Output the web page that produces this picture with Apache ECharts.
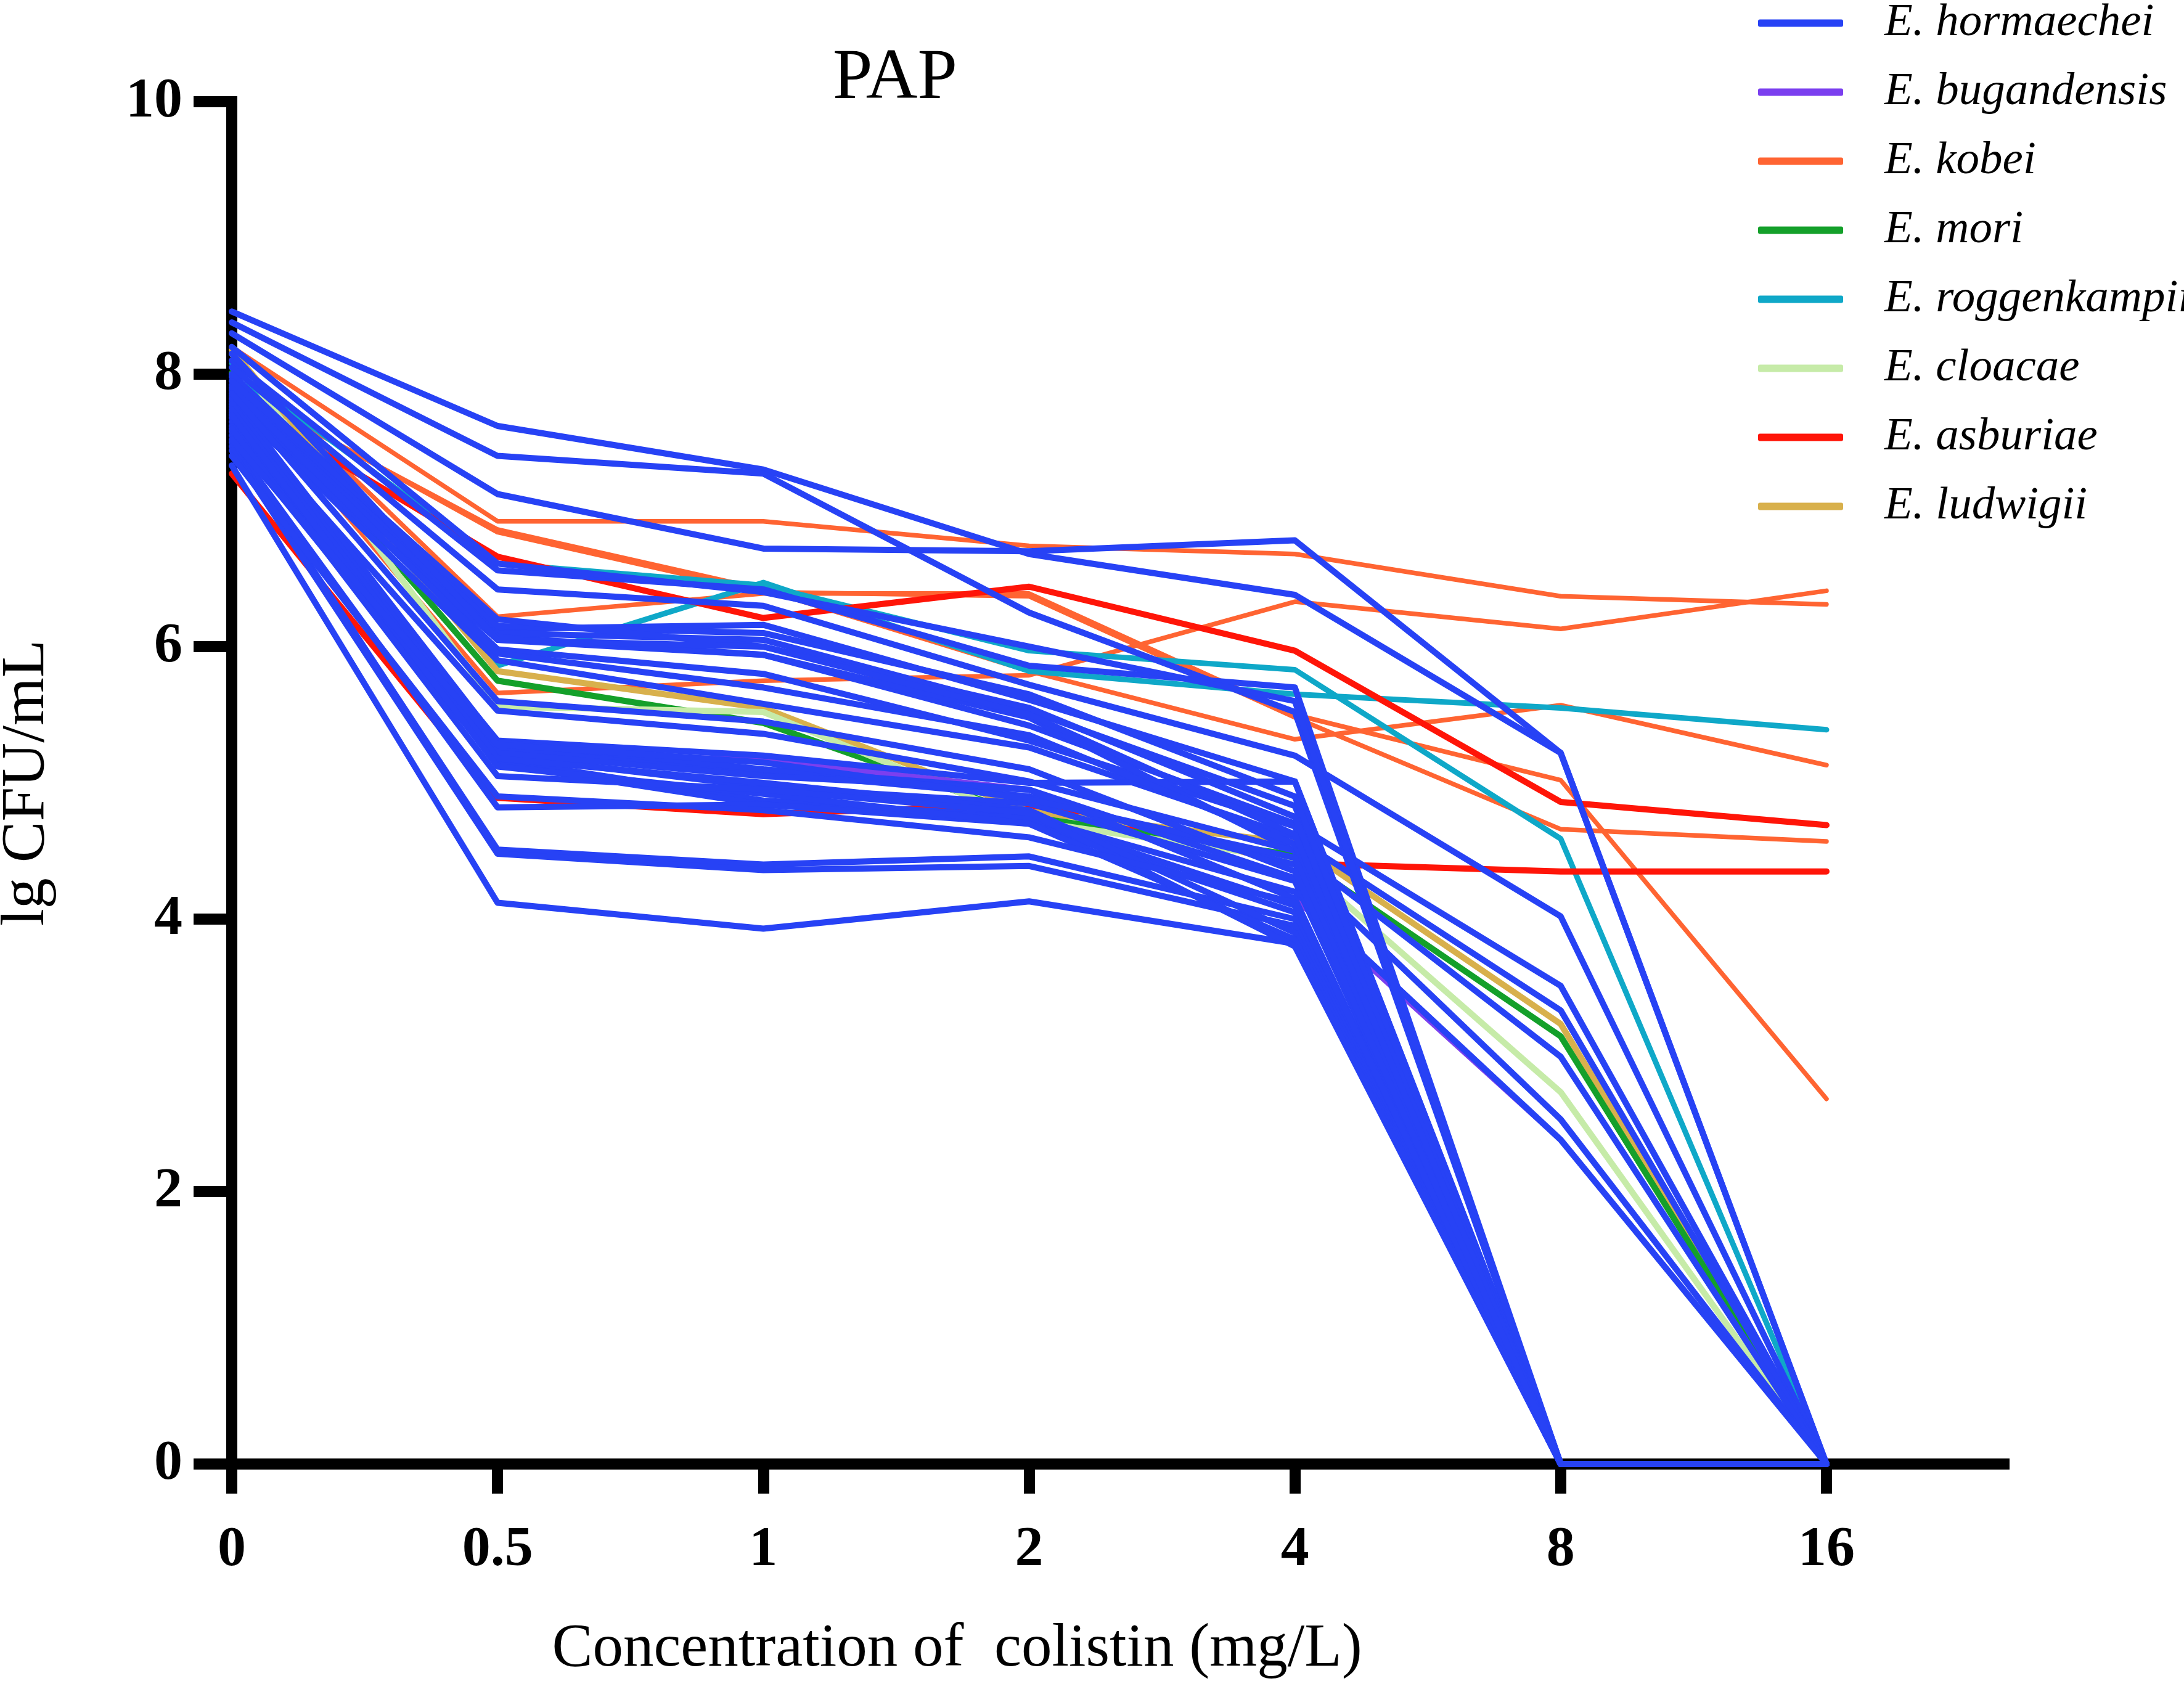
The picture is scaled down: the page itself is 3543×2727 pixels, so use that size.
<!DOCTYPE html>
<html><head><meta charset="utf-8">
<script src="https://cdn.jsdelivr.net/npm/echarts@6/dist/echarts.min.js"></script>
<style>html,body{margin:0;padding:0;background:#fff}#c{width:3543px;height:2727px}</style>
</head><body><div id="c"></div>
<script>
// x categories (colistin, mg/L)
const xLabels = ['0', '0.5', '1', '2', '4', '8', '16'];
const yTicks = [0, 2, 4, 6, 8, 10];

// lg CFU/mL per strain, one row per strain (values at 0,0.5,1,2,4,8,16)
const hormaechei = [
  [8.46, 7.62, 7.30, 6.68, 6.38, 5.22, 0],
  [8.38, 7.40, 7.27, 6.25, 5.52, 0, 0],
  [8.30, 7.12, 6.72, 6.70, 6.78, 5.22, 0],
  [8.10, 6.56, 6.42, 5.86, 5.70, 0, 0],
  [8.05, 6.42, 6.30, 5.72, 5.20, 4.02, 0],
  [7.98, 6.13, 6.16, 5.61, 5.01, 0, 0],
  [7.92, 6.10, 6.05, 5.53, 4.83, 0, 0],
  [7.88, 6.07, 5.94, 5.42, 4.70, 3.51, 0],
  [7.84, 5.98, 5.80, 5.31, 4.68, 0, 0],
  [7.80, 5.90, 5.58, 5.26, 4.60, 3.33, 0],
  [7.76, 6.05, 5.94, 5.48, 4.50, 0, 0],
  [7.72, 5.53, 5.36, 5.01, 4.50, 2.99, 0],
  [7.68, 5.31, 5.20, 5.00, 5.01, 0, 0],
  [7.65, 5.25, 5.08, 4.90, 4.40, 2.53, 0],
  [7.62, 5.20, 4.97, 4.85, 4.28, 0, 0],
  [7.58, 5.17, 4.87, 4.75, 4.20, 2.38, 0],
  [7.55, 5.14, 4.84, 4.74, 4.10, 0, 0],
  [7.50, 4.82, 4.84, 4.70, 4.05, 0, 0],
  [7.47, 4.51, 4.40, 4.46, 4.00, 0, 0],
  [7.44, 4.48, 4.36, 4.39, 3.95, 0, 0],
  [7.33, 4.12, 3.93, 4.13, 3.82, 0, 0],
  [8.20, 6.61, 6.40, 6.00, 5.60, 0, 0],
  [8.00, 6.15, 6.10, 5.65, 4.90, 0, 0],
  [7.95, 6.20, 6.00, 5.55, 4.75, 0, 0],
  [7.90, 5.95, 5.70, 5.35, 4.55, 0, 0],
  [7.82, 5.30, 5.10, 4.95, 4.30, 0, 0],
  [7.78, 5.22, 5.05, 4.95, 4.15, 0, 0],
  [7.74, 5.18, 5.00, 4.80, 3.90, 0, 0],
  [7.70, 5.12, 4.92, 4.70, 3.85, 0, 0],
  [7.60, 5.05, 4.95, 4.78, 3.80, 0, 0],
  [7.52, 5.28, 5.15, 4.88, 4.45, 0, 0],
  [7.40, 4.90, 4.80, 4.60, 4.12, 0, 0],
  [8.15, 6.05, 6.00, 5.50, 4.62, 0, 0],
  [7.86, 5.60, 5.45, 5.10, 4.35, 0, 0]
];
const bugandensis = [
  [7.70, 5.22, 5.17, 4.95, 4.15, 2.38, 0]
];
const kobei = [
  [8.20, 6.92, 6.92, 6.74, 6.68, 6.37, 6.31],
  [7.95, 5.66, 5.75, 5.79, 6.33, 6.13, 6.41],
  [7.90, 6.86, 6.42, 5.82, 5.32, 5.57, 5.13],
  [8.10, 6.22, 6.39, 6.39, 5.50, 5.02, 2.68],
  [7.92, 6.84, 6.40, 6.37, 5.48, 4.66, 4.57]
];
const mori = [
  [8.01, 5.75, 5.44, 4.75, 4.47, 3.14, 0]
];
const roggenkampii = [
  [8.08, 5.86, 6.47, 5.82, 5.65, 5.55, 5.39],
  [8.05, 6.61, 6.45, 5.97, 5.83, 4.59, 0]
];
const cloacae = [
  [8.15, 5.56, 5.52, 4.72, 4.44, 2.73, 0]
];
const asburiae = [
  [7.82, 6.66, 6.21, 6.44, 5.97, 4.86, 4.69],
  [7.27, 4.89, 4.77, 4.84, 4.41, 4.35, 4.35]
];
const ludwigii = [
  [8.18, 5.82, 5.55, 4.79, 4.56, 3.23, 0]
];

const speciesNames = ['E. hormaechei', 'E. bugandensis', 'E. kobei', 'E. mori',
  'E. roggenkampii', 'E. cloacae', 'E. asburiae', 'E. ludwigii'];
const speciesData = [hormaechei, bugandensis, kobei, mori, roggenkampii, cloacae, asburiae, ludwigii];
const speciesColors = ['#2742F5', '#7B3FEF', '#FF6432', '#14A02A', '#0FA8C8', '#C6EBA8', '#FF1508', '#D8B04C'];
const speciesWidths = [10, 9, 7.5, 10, 9, 10, 10, 10];
// draw order: others first, hormaechei on top
const drawOrder = [2, 4, 6, 7, 3, 5, 1, 0];

const FONT = '"Liberation Serif", "Times New Roman", serif';
const series = [];
drawOrder.forEach(si => {
  speciesData[si].forEach(row => {
    series.push({
      type: 'line',
      name: speciesNames[si],
      data: row.map((v, i) => [i, v]),
      symbol: 'none',
      showSymbol: false,
      silent: true,
      animation: false,
      color: speciesColors[si],
      lineStyle: { color: speciesColors[si], width: speciesWidths[si], join: 'round', cap: 'round' },
      itemStyle: { color: speciesColors[si] },
      z: si === 0 ? 4 : 3
    });
  });
});

const chart = echarts.init(document.getElementById('c'), null, { renderer: 'canvas' });
chart.setOption({
  backgroundColor: '#fff',
  animation: false,
  title: {
    text: 'PAP', left: 1452, top: 71, textAlign: 'center', padding: 0,
    textStyle: { fontFamily: FONT, fontSize: 116, fontWeight: 'normal', color: '#000' }
  },
  legend: {
    data: speciesNames,
    orient: 'vertical',
    left: 2852, top: 0, padding: 0,
    itemWidth: 138, itemHeight: 12, itemGap: 37,
    icon: 'roundRect',
    selectedMode: false,
    textStyle: { fontFamily: FONT, fontSize: 75, fontStyle: 'italic', color: '#000', lineHeight: 60, padding: [0, 0, 0, 62] }
  },
  grid: { left: 376, right: 292, top: 165, bottom: 352, containLabel: false, outerBoundsMode: 'none' },
  xAxis: {
    type: 'value', min: 0, max: 6.668,
    name: 'Concentration of  colistin (mg/L)',
    nameLocation: 'middle', nameGap: 251,
    nameTextStyle: { fontFamily: FONT, fontSize: 99, color: '#000', padding: [0, 522, 0, 0] },
    axisLine: { show: true, onZero: false, lineStyle: { color: '#000', width: 18, cap: 'square' } },
    axisTick: { show: true, length: 48, lineStyle: { color: '#000', width: 18 }, customValues: [0, 1, 2, 3, 4, 5, 6] },
    axisLabel: {
      customValues: [0, 1, 2, 3, 4, 5, 6],
      formatter: v => xLabels[Math.round(v)] || '',
      margin: 94, fontFamily: FONT, fontSize: 92, fontWeight: 'bold', color: '#000'
    },
    splitLine: { show: false }
  },
  yAxis: {
    type: 'value', min: yTicks[0], max: yTicks[yTicks.length - 1], interval: 2,
    name: 'lg CFU/mL',
    nameLocation: 'middle', nameGap: 282,
    nameTextStyle: { fontFamily: FONT, fontSize: 100, color: '#000' },
    axisLine: { show: true, lineStyle: { color: '#000', width: 18, cap: 'square' } },
    axisTick: { show: true, length: 62, lineStyle: { color: '#000', width: 18 } },
    axisLabel: { margin: 80, fontFamily: FONT, fontSize: 92, fontWeight: 'bold', color: '#000' },
    splitLine: { show: false }
  },
  series: series
});
</script>
</body></html>
